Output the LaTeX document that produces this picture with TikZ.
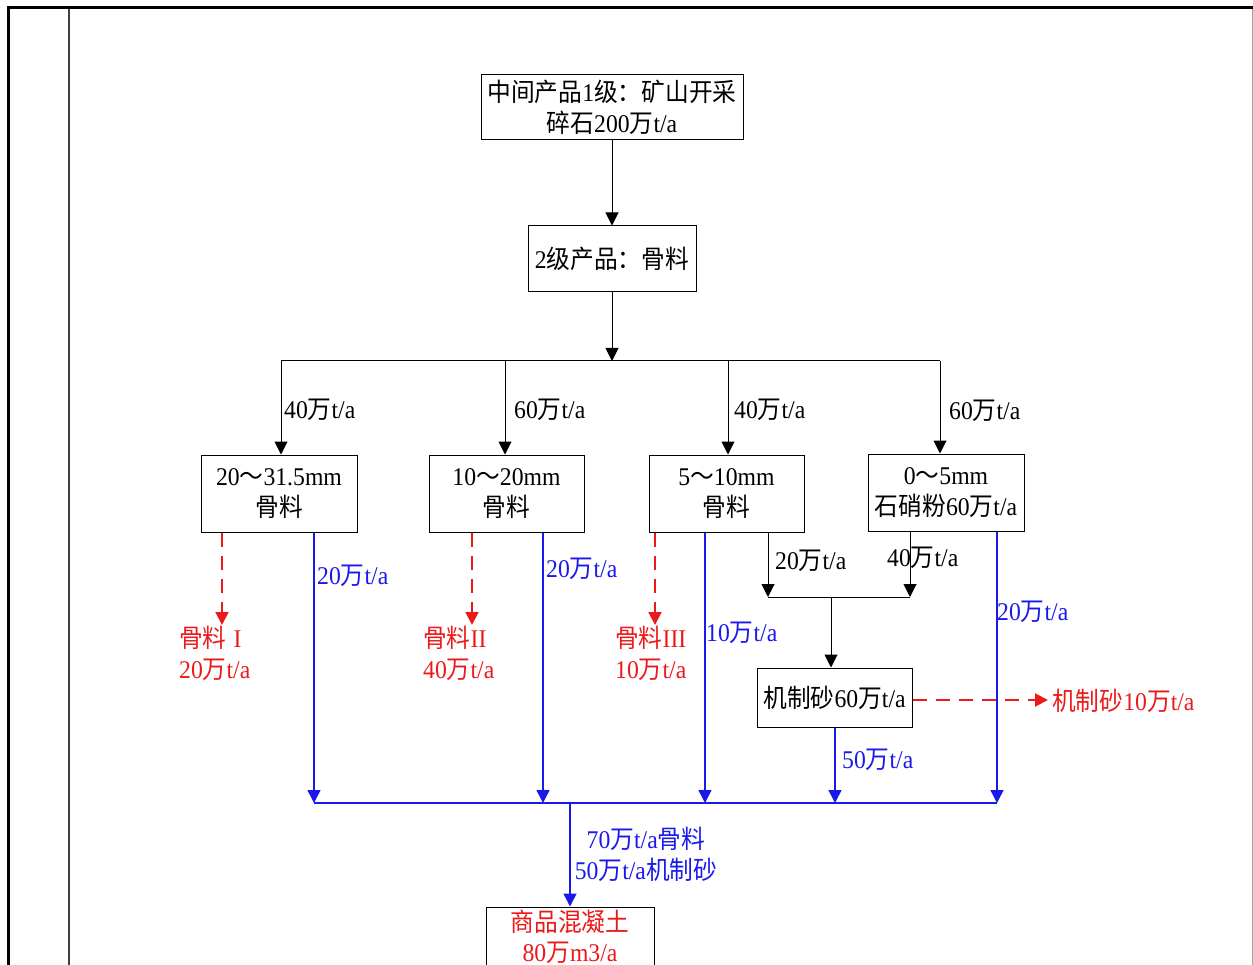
\documentclass[tikz,border=0pt]{standalone}
\usepackage{fontspec}
\setmainfont{Liberation Serif}[FakeStretch=0.93]
\newfontfamily\cjk{Noto Sans CJK SC}[FakeStretch=0.93]
\usetikzlibrary{arrows.meta}
\definecolor{myblue}{RGB}{25,25,235}
\definecolor{myred}{RGB}{235,25,25}
\begin{document}
\begin{tikzpicture}[x=1pt,y=-1pt,
  every node/.style={font=\fontsize{25.5}{31}\selectfont},
  box/.style={draw=black, line width=1pt, inner sep=0pt, align=center},
  tip/.style={-{Triangle[length=13pt,width=13pt]}},
  blk/.style={draw=black, line width=1pt},
  blu/.style={draw=myblue, line width=1.5pt},
  redd/.style={draw=myred, line width=2pt, dash pattern=on 14pt off 9pt},
  lab/.style={inner sep=0pt, anchor=west},
  rlab/.style={inner sep=0pt, anchor=west, align=left, text=myred},
  blab/.style={inner sep=0pt, anchor=west, text=myblue}
]
\useasboundingbox (0,0) rectangle (1253,965);
\clip (0,0) rectangle (1253,965);
% frame
\draw[line width=3pt] (8,966) -- (8,8) -- (1254,8);
\draw[line width=1.5pt, black!75] (69,9) -- (69,966);
\draw[line width=1pt, black!35] (1252,9) -- (1252,966);

% boxes
\node[box, minimum width=262, minimum height=65] (A) at (612,107.5)
  {{\cjk 中间产品}1{\cjk 级：矿山开采}\\{\cjk 碎石}200{\cjk 万}t/a};
\node[box, minimum width=168, minimum height=66] (B) at (612,259)
  {2{\cjk 级产品：骨料}};
\node[box, minimum width=156, minimum height=77] (C1) at (279,493.5)
  {20{\cjk ～}31.5mm\\{\cjk 骨料}};
\node[box, minimum width=155, minimum height=77] (C2) at (506.5,493.5)
  {10{\cjk ～}20mm\\{\cjk 骨料}};
\node[box, minimum width=155, minimum height=77] (C3) at (726.5,493.5)
  {5{\cjk ～}10mm\\{\cjk 骨料}};
\node[box, minimum width=156, minimum height=77] (C4) at (946,492.5)
  {0{\cjk ～}5mm\\{\cjk 石硝粉}60{\cjk 万}t/a};
\node[box, minimum width=155, minimum height=59] (D) at (834.5,697.5)
  {{\cjk 机制砂}60{\cjk 万}t/a};
\node[box, minimum width=168, minimum height=60, text=myred,
  font=\fontsize{25.5}{30}\selectfont] (E) at (570,937)
  {{\cjk 商品混凝土}\\80{\cjk 万}m3/a};

% top flow
\draw[blk,tip] (A.south) -- (B.north);
\coordinate (J1) at (612,361);
\draw[blk,tip] (B.south) -- (J1);
\coordinate (JL) at (281,361);
\coordinate (JM1) at (505,361);
\coordinate (JM2) at (728,361);
\coordinate (JR) at (940,361);
\draw[blk] (JL) -- (JR);
\draw[blk,tip] (JL) -- (JL |- C1.north);
\draw[blk,tip] (JM1) -- (JM1 |- C2.north);
\draw[blk,tip] (JM2) -- (JM2 |- C3.north);
\draw[blk,tip] (JR) -- (JR |- C4.north);
\node[lab] (l1) at (284,410) {40{\cjk 万}t/a};
\node[lab] (l2) at (514,410) {60{\cjk 万}t/a};
\node[lab] (l3) at (734,410) {40{\cjk 万}t/a};
\node[lab] (l4) at (949,411) {60{\cjk 万}t/a};

% to machine sand
\coordinate (K1) at (768,597);
\coordinate (K2) at (910,597);
\coordinate (K3) at (831,597);
\draw[blk,tip] (K1 |- C3.south) -- (K1);
\draw[blk,tip] (K2 |- C4.south) -- (K2);
\draw[blk] (K1) -- (K2);
\draw[blk,tip] (K3) -- (K3 |- D.north);
\node[lab] (l5) at (775,561) {20{\cjk 万}t/a};
\node[lab] (l6) at (887,558) {40{\cjk 万}t/a};

% red dashed outputs
\coordinate (R1) at (222,625);
\coordinate (R2) at (472,625);
\coordinate (R3) at (655,625);
\coordinate (R4) at (1048,700);
\draw[redd,tip] (R1 |- C1.south) -- (R1);
\draw[redd,tip] (R2 |- C2.south) -- (R2);
\draw[redd,tip] (R3 |- C3.south) -- (R3);
\draw[redd,tip] (D.east |- R4) -- (R4);
\node[rlab] (r1) at (179,653) {{\cjk 骨料}\hspace{7pt}I\\20{\cjk 万}t/a};
\node[rlab] (r2) at (423,653) {{\cjk 骨料}II\\40{\cjk 万}t/a};
\node[rlab] (r3) at (615,653) {{\cjk 骨料}III\\10{\cjk 万}t/a};
\node[rlab] (r4) at (1052,701) {{\cjk 机制砂}10{\cjk 万}t/a};

% blue collection
\coordinate (B1) at (314,803);
\coordinate (B2) at (543,803);
\coordinate (B3) at (705,803);
\coordinate (B4) at (835,803);
\coordinate (B5) at (997,803);
\coordinate (B0) at (570,803);
\draw[blu] (B1) -- (B5);
\draw[blu,tip] (B1 |- C1.south) -- (B1);
\draw[blu,tip] (B2 |- C2.south) -- (B2);
\draw[blu,tip] (B3 |- C3.south) -- (B3);
\draw[blu,tip] (B4 |- D.south) -- (B4);
\draw[blu,tip] (B5 |- C4.south) -- (B5);
\draw[blu,tip] (B0) -- (B0 |- E.north);
\node[blab] (b1) at (317,576) {20{\cjk 万}t/a};
\node[blab] (b2) at (546,569) {20{\cjk 万}t/a};
\node[blab] (b3) at (706,633) {10{\cjk 万}t/a};
\node[blab] (b4) at (842,760) {50{\cjk 万}t/a};
\node[blab] (b5) at (997,612) {20{\cjk 万}t/a};
\node[inner sep=0pt, align=center, text=myblue] (b6) at (646,854)
  {70{\cjk 万}t/a{\cjk 骨料}\\50{\cjk 万}t/a{\cjk 机制砂}};
\end{tikzpicture}
\end{document}
